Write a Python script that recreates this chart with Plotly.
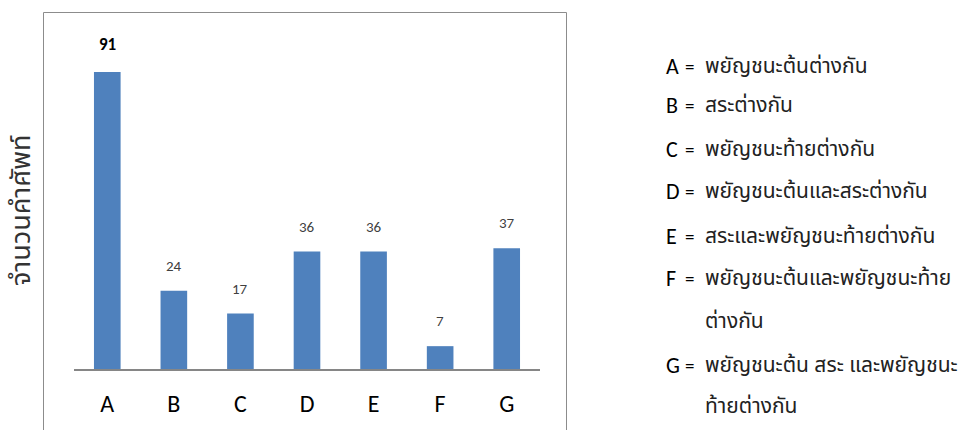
import plotly.graph_objects as go

categories = ["A", "B", "C", "D", "E", "F", "G"]
values = [91, 24, 17, 36, 36, 7, 37]
y_title = "จำนวนคำศัพท์"
legend_keys = ["A", "B", "C", "D", "E", "F", "", "G", ""]
legend_texts = [
    "พยัญชนะต้นต่างกัน",
    "สระต่างกัน",
    "พยัญชนะท้ายต่างกัน",
    "พยัญชนะต้นและสระต่างกัน",
    "สระและพยัญชนะท้ายต่างกัน",
    "พยัญชนะต้นและพยัญชนะท้าย",
    "ต่างกัน",
    "พยัญชนะต้น สระ และพยัญชนะ",
    "ท้ายต่างกัน",
]
legend_y_px = [66, 106, 149, 191, 236, 278, 321, 365, 406]

W, H = 975, 430
L, R, T, B = 74, 975 - 540, 12, 430 - 369
plot_w = W - L - R
plot_h = H - T - B
YMAX = 109.4

def px_x(p):
    return (p - L) / plot_w

def px_y(p):
    return (H - B - p) / plot_h

lat = "Carlito, Calibri, 'Open Sans', 'Liberation Sans', sans-serif"
thai = "'Noto Sans Thai', 'Leelawadee UI', 'Tahoma', 'Noto Sans', sans-serif"

fig = go.Figure(go.Bar(
    x=categories, y=values, marker=dict(color="#4F81BD", line=dict(width=0)),
    width=0.4, hoverinfo="skip",
))

annotations = []
for i, (c, v) in enumerate(zip(categories, values)):
    bold = i == 0
    annotations.append(dict(
        x=c, y=v, xref="x", yref="y", text=f"<b>{v}</b>" if bold else str(v),
        showarrow=False, yshift=28 if bold else 25, yanchor="middle",
        font=dict(family=lat, size=17 if bold else 15, color="#000" if bold else "#404040"),
    ))

annotations.append(dict(
    x=px_x(21), y=px_y(211), xref="paper", yref="paper", text=y_title,
    textangle=-90, showarrow=False, xanchor="center", yanchor="middle",
    font=dict(family=thai, size=27, color="#333"),
))

for k, t, yp in zip(legend_keys, legend_texts, legend_y_px):
    if k:
        annotations.append(dict(
            x=px_x(664), y=px_y(yp), xref="paper", yref="paper", text=k,
            showarrow=False, xanchor="left", yanchor="middle",
            font=dict(family=lat, size=22, color="#000"),
        ))
        annotations.append(dict(
            x=px_x(689), y=px_y(yp), xref="paper", yref="paper", text="=",
            showarrow=False, xanchor="center", yanchor="middle",
            font=dict(family=lat, size=19, color="#000"),
        ))
    annotations.append(dict(
        x=px_x(703), y=px_y(yp), xref="paper", yref="paper", text=t,
        showarrow=False, xanchor="left", yanchor="middle",
        font=dict(family=thai, size=21, color="#222"),
    ))

shapes = [dict(
    type="rect", xref="paper", yref="paper",
    x0=px_x(43.5), x1=px_x(566.5), y0=px_y(460), y1=px_y(12.5),
    line=dict(color="#8c8c8c", width=1), fillcolor="rgba(0,0,0,0)", layer="below",
)]

fig.update_layout(
    width=W, height=H, margin=dict(l=L, r=R, t=T, b=B, autoexpand=False),
    paper_bgcolor="white", plot_bgcolor="white",
    showlegend=False, bargap=0.6,
    annotations=annotations, shapes=shapes,
    xaxis=dict(
        range=[-0.5, 6.5], showline=True, linecolor="#868686", linewidth=1.5,
        showgrid=False, zeroline=False, ticks="", ticklabelstandoff=12,
        tickfont=dict(family=lat, size=24, color="#000"), fixedrange=True,
        automargin=False,
    ),
    yaxis=dict(
        range=[0, YMAX], visible=False, showgrid=False, zeroline=False, fixedrange=True,
        automargin=False,
    ),
)

fig.write_html("out.html", config={"displayModeBar": False})
